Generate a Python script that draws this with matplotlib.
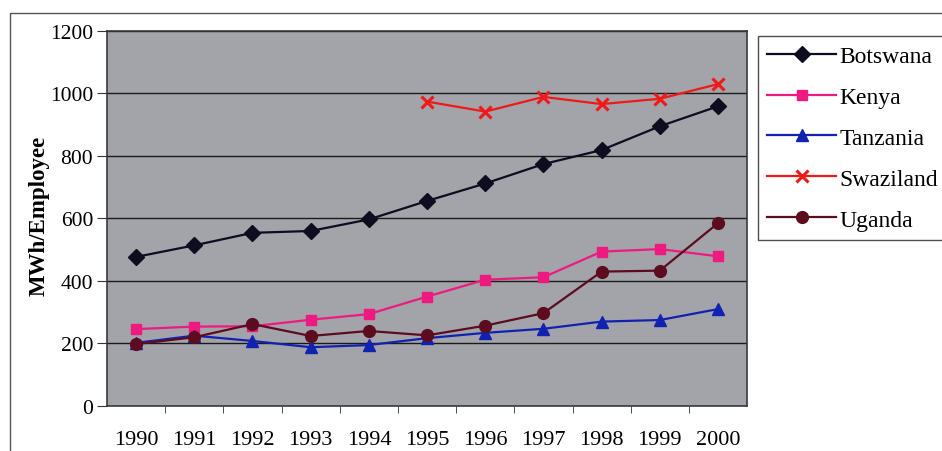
import numpy as np
import matplotlib
matplotlib.use('Agg')
import matplotlib.pyplot as plt
from matplotlib.patches import Rectangle

plt.rcParams['font.family'] = ['Liberation Serif', 'DejaVu Serif']

years = ['1990', '1991', '1992', '1993', '1994', '1995',
         '1996', '1997', '1998', '1999', '2000']
botswana = [477, 514, 554, 560, 597, 656, 712, 774, 819, 895, 959]
kenya = [246, 254, 255, 276, 294, 350, 404, 412, 494, 502, 479]
tanzania = [202, 225, 208, 188, 195, 217, 234, 247, 270, 275, 310]
swaziland = [np.nan, np.nan, np.nan, np.nan, np.nan, 974, 942, 989, 966, 983, 1030]
uganda = [198, 220, 262, 224, 240, 226, 257, 297, 430, 433, 585]

series = [
    ('Botswana', botswana, '#0d0d1f', 'D', 8, 1.0),
    ('Kenya', kenya, '#ee1a80', 's', 7.5, 1.0),
    ('Tanzania', tanzania, '#1222b0', '^', 8.5, 1.0),
    ('Swaziland', swaziland, '#f01818', 'x', 9, 2.2),
    ('Uganda', uganda, '#5c0c1e', 'o', 8.5, 1.0),
]

fig = plt.figure(figsize=(9.42, 4.52), dpi=100)
ax = fig.add_axes([0.1136, 0.0996, 0.6795, 0.8297])
ax.set_facecolor('#a3a3aa')

x = np.arange(len(years))
for name, vals, col, mk, ms, mew in series:
    ax.plot(x, vals, color=col, lw=1.6, marker=mk, ms=ms, mew=mew,
            mec=col, mfc=col, label=name, zorder=3)

ax.set_xlim(-0.5, len(years) - 0.5)
ax.set_ylim(0, 1200)
ax.set_yticks(range(0, 1201, 200))
ax.yaxis.grid(True, color='#1a1a1a', lw=1.0)
ax.set_axisbelow(True)

# category labels centred, tick marks on the boundaries
ax.set_xticks(x)
ax.set_xticklabels(years, fontsize=16)
ax.set_xticks(np.arange(0.5, len(years) - 1, 1), minor=True)
ax.tick_params(axis='x', which='major', length=0, pad=17)
ax.tick_params(axis='x', which='minor', length=5, color='#333333', direction='out')
ax.tick_params(axis='y', length=7, labelsize=15.5, color='#333333', pad=3)

for s in ax.spines.values():
    s.set_color('#3a3a3a')
    s.set_linewidth(1.2)

ax.set_ylabel('MWh/Employee', fontsize=16.5, fontweight='bold')
ax.yaxis.set_label_coords(-0.09, 0.51)

leg = fig.legend(loc='upper left', bbox_to_anchor=(758 / 942, 1 - 37 / 452),
                 fontsize=17, frameon=True, fancybox=False, borderpad=0.4,
                 labelspacing=0.82, handlelength=2.9, handletextpad=0.15,
                 borderaxespad=0)
leg.get_frame().set_edgecolor('#222222')
leg.get_frame().set_linewidth(1.0)

# thin outer frame around the chart
fig.add_artist(Rectangle((10 / 942, -0.05), 1.0, 1 - 14 / 452 + 0.05,
                         transform=fig.transFigure, fill=False,
                         edgecolor='#555555', lw=1.0))

fig.savefig('out.png', dpi=100)
